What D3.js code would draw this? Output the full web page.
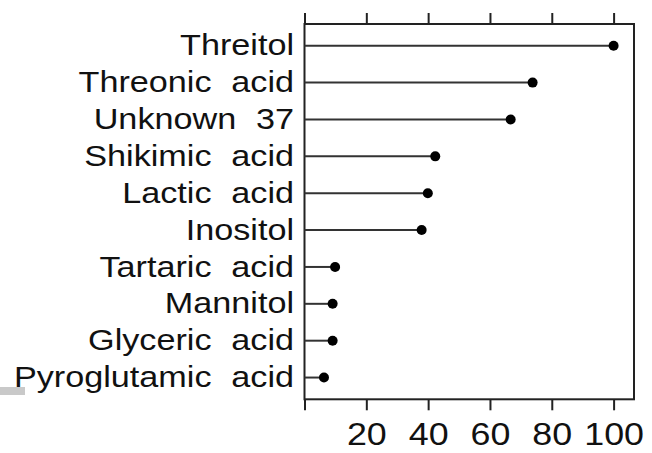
<!DOCTYPE html>
<html>
<head>
<meta charset="utf-8">
<script src="https://cdn.jsdelivr.net/npm/d3@7/dist/d3.min.js"></script>
<style>
  html, body { margin: 0; padding: 0; background: #fff; }
  svg { display: block; }
  text { font-family: "Liberation Sans", Arial, Helvetica, sans-serif; fill: #111; }
</style>
</head>
<body>
<svg id="chart" width="652" height="453"></svg>
<script>
// Compounds, top to bottom, and their relative importance
const compounds = [
  "Threitol", "Threonic acid", "Unknown 37", "Shikimic acid", "Lactic acid",
  "Inositol", "Tartaric acid", "Mannitol", "Glyceric acid", "Pyroglutamic acid"
];
const importance = [100, 73.8, 66.7, 42.3, 39.9, 37.9, 9.9, 9.1, 9.1, 6.3];
const tickValues = [0, 20, 40, 60, 80, 100];
const xDomain = [0, 106.6];

const svg = d3.select("#chart");
const box = { left: 304.5, right: 634, top: 24, bottom: 399.3 };

const x = d3.scaleLinear().domain(xDomain).range([box.left, box.right]);
const y = d3.scalePoint().domain(compounds).range([box.top, box.bottom]).padding(0.59);

const ink = "#222";

// small grey strip at the lower left edge
svg.append("rect")
  .attr("x", 0).attr("y", 387).attr("width", 25).attr("height", 8)
  .attr("fill", "#c9c9c9");

// top axis: ticks only
const topAxis = svg.append("g")
  .attr("transform", `translate(0,${box.top})`)
  .call(d3.axisTop(x).tickValues(tickValues).tickSize(11).tickFormat(""));

// bottom axis with labels
const bottomAxis = svg.append("g")
  .attr("transform", `translate(0,${box.bottom})`)
  .call(d3.axisBottom(x).tickValues(tickValues).tickSize(11).tickPadding(12)
    .tickFormat(d => d === 0 ? "" : d));

[topAxis, bottomAxis].forEach(g => {
  g.select(".domain").remove();
  g.selectAll(".tick line").attr("stroke", ink).attr("stroke-width", 2);
});
bottomAxis.selectAll(".tick text")
  .attr("font-size", 32)
  .attr("fill", "#111")
  .attr("transform", "scale(1.12,1)");

// plot frame
svg.append("rect")
  .attr("x", box.left).attr("y", box.top)
  .attr("width", box.right - box.left).attr("height", box.bottom - box.top)
  .attr("fill", "none").attr("stroke", ink).attr("stroke-width", 2);

const rows = compounds.map((c, i) => ({ name: c, value: importance[i] }));

// stems
svg.append("g").selectAll("line")
  .data(rows).join("line")
  .attr("x1", x(0)).attr("x2", d => x(d.value))
  .attr("y1", d => y(d.name)).attr("y2", d => y(d.name))
  .attr("stroke", "#333").attr("stroke-width", 2);

// heads
svg.append("g").selectAll("circle")
  .data(rows).join("circle")
  .attr("cx", d => x(d.value)).attr("cy", d => y(d.name))
  .attr("r", 5).attr("fill", "#000");

// compound names
svg.append("g").selectAll("text")
  .data(rows).join("text")
  .attr("transform", d => `translate(294,${y(d.name)}) scale(1.14,1)`)
  .attr("text-anchor", "end")
  .attr("dy", "0.32em")
  .attr("font-size", 30)
  .style("word-spacing", "9px")
  .text(d => d.name);
</script>
</body>
</html>
